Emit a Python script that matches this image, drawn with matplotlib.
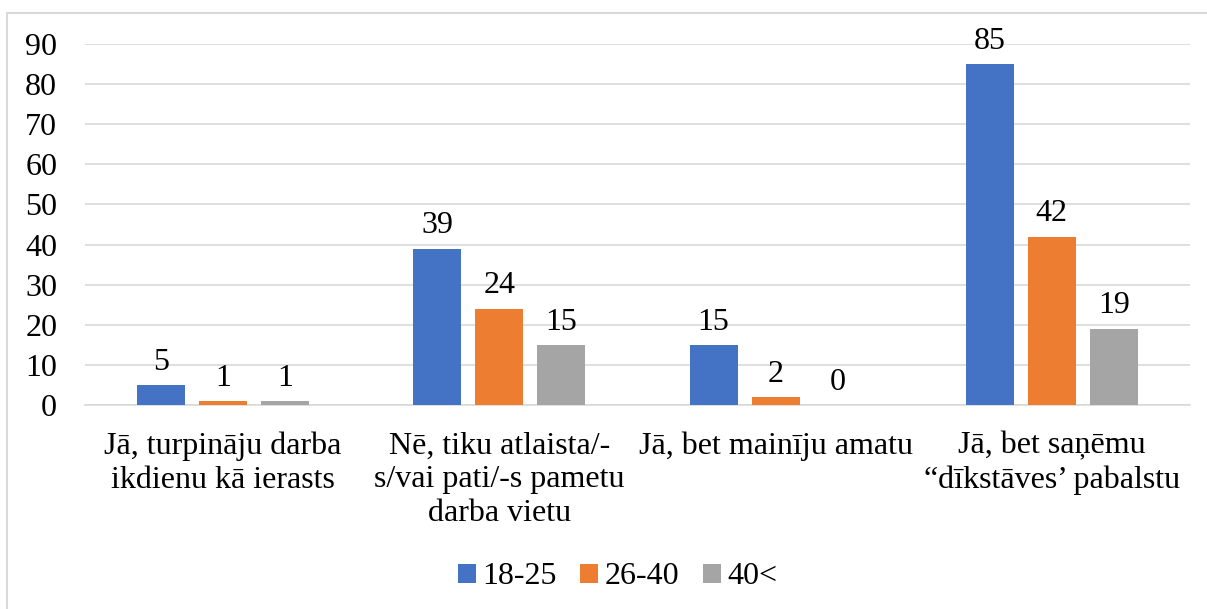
import numpy as np
import matplotlib.pyplot as plt
from matplotlib.lines import Line2D

plt.rcParams['font.family'] = ['Liberation Serif', 'DejaVu Serif']

# dati
kategorijas = ['Jā, turpināju darba\nikdienu kā ierasts',
               'Nē, tiku atlaista/-\ns/vai pati/-s pametu\ndarba vietu',
               'Jā, bet mainīju amatu',
               'Jā, bet saņēmu\n“dīkstāves’ pabalstu']
grupas = ['18-25', '26-40', '40<']
v_18_25 = [5, 39, 15, 85]
v_26_40 = [1, 24, 2, 42]
v_40 = [1, 15, 0, 19]
krasas = ['#4472C4', '#ED7D31', '#A5A5A5']

FS = 23
W, H = 1207, 609
fig = plt.figure(figsize=(W / 100, H / 100), dpi=100)
ax = fig.add_axes([85 / W, (H - 405) / H, (1190 - 85) / W, (405 - 44) / H])

x = np.arange(len(kategorijas))
bw = 48 / 276
step = 62 / 276
for i, (vals, c, lab) in enumerate(zip([v_18_25, v_26_40, v_40], krasas, grupas)):
    bars = ax.bar(x + (i - 1) * step, vals, width=bw, color=c, label=lab, zorder=3)
    for b, v in zip(bars, vals):
        ax.annotate(str(v), (b.get_x() + b.get_width() / 2, v), xytext=(0, 6),
                    textcoords='offset points', ha='center', va='bottom', fontsize=FS)

ax.set_xlim(-0.5, len(kategorijas) - 0.5)
ax.set_ylim(0, 90)
ax.set_yticks(range(0, 91, 10))
ax.yaxis.grid(True, color='#D9D9D9', linewidth=1.2, zorder=0)
ax.set_axisbelow(True)
for s in ['top', 'right', 'left']:
    ax.spines[s].set_visible(False)
ax.spines['bottom'].set_color('#D9D9D9')
ax.spines['bottom'].set_linewidth(1.2)
ax.tick_params(axis='both', length=0, labelsize=FS)
ax.tick_params(axis='y', pad=20)
ax.tick_params(axis='x', pad=19)
ax.set_xticks(x)
ax.set_xticklabels(kategorijas, linespacing=1.22)

fig.legend(loc='center', bbox_to_anchor=(0.5 + 14 / W, (H - 577) / H), ncol=3, frameon=False,
           fontsize=FS, handlelength=0.55, handleheight=0.55, handletextpad=0.2,
           columnspacing=0.75)

# ārējais rāmis
fig.add_artist(Line2D([7 / W, 7 / W], [0, 1 - 13 / H], color='#D9D9D9', lw=1.5))
fig.add_artist(Line2D([7 / W, 1], [1 - 13 / H, 1 - 13 / H], color='#D9D9D9', lw=1.5))

fig.savefig('out.png', dpi=100)
